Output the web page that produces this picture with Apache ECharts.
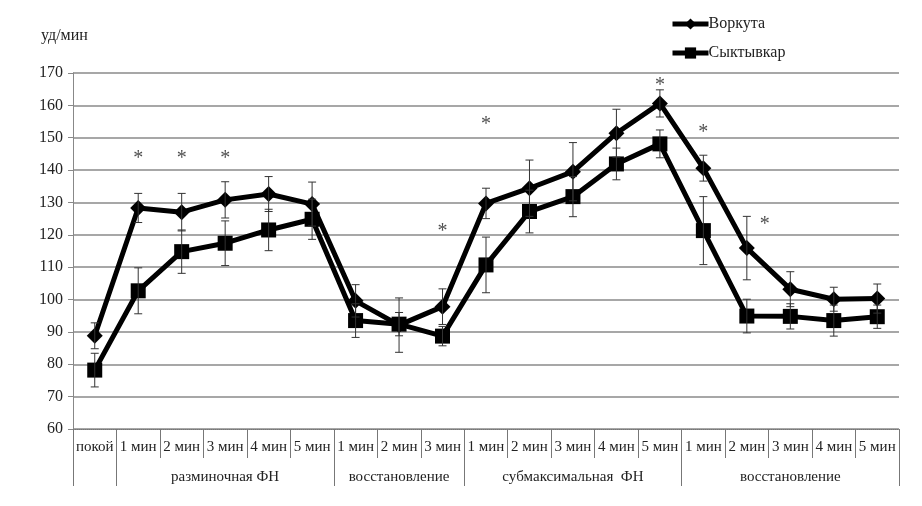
<!DOCTYPE html>
<html><head><meta charset="utf-8">
<script src="https://cdn.jsdelivr.net/npm/echarts@6/dist/echarts.min.js"></script>
<style>html,body{margin:0;padding:0;background:#fff}#c{width:922px;height:506px}</style>
</head><body><div id="c"></div>
<script>
var categories = ['покой','1 мин','2 мин','3 мин','4 мин','5 мин','1 мин','2 мин','3 мин','1 мин','2 мин','3 мин','4 мин','5 мин','1 мин','2 мин','3 мин','4 мин','5 мин'];
var groupNames = ['', 'разминочная ФН', 'восстановление', 'субмаксимальная  ФН', 'восстановление'];
var groupStart = [0, 1, 6, 9, 14];
var groupLabelAt = [3, 7, 11, 16];
var vorkuta    = [88.8,128.3,127.0,130.8,132.6,129.5,99.6,92.1,97.8,129.7,134.4,139.5,151.4,160.6,140.6,115.9,103.2,100.1,100.3];
var vorkutaErr = [4.0,4.5,5.8,5.6,5.4,6.8,5.0,8.4,5.5,4.7,8.7,9.0,7.4,4.2,4.0,9.8,5.4,3.7,4.5];
var syktyvkar    = [78.2,102.7,114.8,117.4,121.5,124.8,93.5,92.4,88.7,110.7,127.2,131.8,141.9,148.1,121.3,94.9,94.8,93.5,94.7];
var syktyvkarErr = [5.2,7.1,6.7,6.9,6.4,6.2,5.2,3.6,3.0,8.6,6.6,6.2,4.9,4.3,10.5,5.2,3.9,4.8,3.6];
var stars = [null,145,145,145,null,null,null,null,122.4,155.5,null,null,null,167.5,153,124.6,null,null,null];
var yTicks = {min:60, max:170, interval:10};

var FONT = '"Liberation Serif", "DejaVu Serif", serif';
var chart = echarts.init(document.getElementById('c'), null, {renderer:'canvas'});

function errData(vals, errs){
  return vals.map(function(v,i){ return [i, v-errs[i], v+errs[i]]; });
}
function errRender(params, api){
  var x = api.value(0);
  var lo = api.coord([x, api.value(1)]);
  var hi = api.coord([x, api.value(2)]);
  var hw = 4;
  var st = {stroke:'#333', lineWidth:1};
  return {type:'group', children:[
    {type:'line', shape:{x1:lo[0],y1:lo[1],x2:hi[0],y2:hi[1]}, style:st},
    {type:'line', shape:{x1:lo[0]-hw,y1:lo[1],x2:lo[0]+hw,y2:lo[1]}, style:st},
    {type:'line', shape:{x1:hi[0]-hw,y1:hi[1],x2:hi[0]+hw,y2:hi[1]}, style:st}
  ]};
}
var groupOf = categories.map(function(c,i){
  var g = 0; for (var k=0;k<groupStart.length;k++){ if (i>=groupStart[k]) g=k; } return g;
});
var starData = [];
stars.forEach(function(v,i){
  if (v === null) return;
  var d = {value:[i, v]};
  if (i === 15) d.label = {offset:[18,5]};
  starData.push(d);
});

chart.setOption({
  animation:false,
  backgroundColor:'#fff',
  title:{text:'уд/мин', left:36, top:23, textStyle:{fontFamily:FONT, fontSize:16, fontWeight:'normal', color:'#222'}},
  legend:{
    orient:'vertical', left:665, top:11, itemGap:13, itemWidth:36, itemHeight:14,
    lineStyle:{width:5, color:'#000'},
    textStyle:{fontFamily:FONT, fontSize:16, color:'#222', padding:[0,0,0,-5]},
    data:['Воркута','Сыктывкар']
  },
  grid:{left:73, right:23, top:73, bottom:77},
  xAxis:[{
    type:'category', data:categories, boundaryGap:true, position:'bottom',
    axisLine:{show:true, lineStyle:{color:'#777', width:1, type:'dotted'}},
    axisTick:{show:true, interval:0, length:29, lineStyle:{color:'#777'}},
    axisLabel:{interval:0, margin:11, fontFamily:FONT, fontSize:15, color:'#222'}
  },{
    type:'category', data:categories, boundaryGap:true, position:'bottom',
    axisLine:{show:false},
    axisTick:{show:true, length:57, lineStyle:{color:'#777'},
      interval:function(i){ return groupStart.indexOf(i) >= 0; }},
    axisLabel:{margin:41, fontFamily:FONT, fontSize:15, color:'#222',
      interval:function(i){ return groupLabelAt.indexOf(i) >= 0; },
      formatter:function(v,i){ return groupNames[groupOf[i]]; }}
  }],
  yAxis:{
    type:'value', min:yTicks.min, max:yTicks.max, interval:yTicks.interval,
    axisLine:{show:true, lineStyle:{color:'#888'}},
    axisTick:{show:true, length:5, lineStyle:{color:'#888'}},
    axisLabel:{fontFamily:FONT, fontSize:16, color:'#222', margin:10},
    splitLine:{lineStyle:{color:'#8a8a8a', width:1.5}}
  },
  series:[
    {name:'Воркута', type:'line', data:vorkuta, symbol:'diamond', symbolSize:16,
     lineStyle:{color:'#000', width:5}, itemStyle:{color:'#000'}, z:3},
    {name:'Сыктывкар', type:'line', data:syktyvkar, symbol:'rect', symbolSize:15,
     lineStyle:{color:'#000', width:5}, itemStyle:{color:'#000'}, z:3},
    {type:'custom', renderItem:errRender, data:errData(vorkuta, vorkutaErr), z:4, silent:true},
    {type:'custom', renderItem:errRender, data:errData(syktyvkar, syktyvkarErr), z:4, silent:true},
    {type:'scatter', data:starData, symbolSize:2, itemStyle:{color:'rgba(0,0,0,0)'}, silent:true, z:5,
     label:{show:true, position:'inside', offset:[0,5], formatter:'*', fontFamily:FONT, fontSize:20, color:'#222'}}
  ]
});
</script></body></html>
